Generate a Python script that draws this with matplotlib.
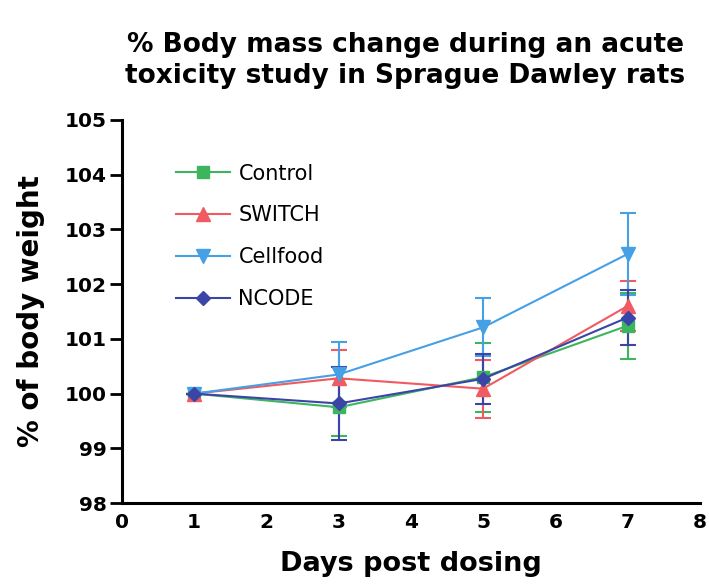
import matplotlib
matplotlib.use("Agg")
import matplotlib.pyplot as plt
from matplotlib.lines import Line2D

days = [1, 3, 5, 7]
series_names = ["Control", "SWITCH", "Cellfood", "NCODE"]
control = [100.0, 99.75, 100.30, 101.24]
control_err = [0.0, 0.52, 0.63, 0.60]
switch = [100.0, 100.28, 100.09, 101.60]
switch_err = [0.0, 0.52, 0.53, 0.45]
cellfood = [100.0, 100.35, 101.21, 102.55]
cellfood_err = [0.0, 0.60, 0.53, 0.75]
ncode = [100.0, 99.82, 100.27, 101.39]
ncode_err = [0.0, 0.66, 0.46, 0.50]

x_ticks = [0, 1, 2, 3, 4, 5, 6, 7, 8]
y_ticks = [98, 99, 100, 101, 102, 103, 104, 105]

plt.rcParams['font.family'] = ['DejaVu Sans']

fig = plt.figure(figsize=(7.09, 5.85), dpi=100)
ax = fig.add_axes([0.172, 0.140, 0.815, 0.655])

styles = [
    (control, control_err, "#3db55e", "s", 9),
    (switch, switch_err, "#f05a60", "^", 9.5),
    (cellfood, cellfood_err, "#45a0e6", "v", 9.5),
    (ncode, ncode_err, "#3b45a8", "D", 7.5),
]
handles = []
for name, (vals, errs, col, mk, ms) in zip(series_names, styles):
    ax.errorbar(days, vals, yerr=errs, color=col, marker=mk, markersize=ms,
                linewidth=1.5, elinewidth=1.5, capsize=6, capthick=1.5)
    handles.append(Line2D([], [], color=col, marker=mk, markersize=ms,
                          linewidth=1.5, label=name))

ax.set_xlim(0, 8)
ax.set_ylim(98, 105)
ax.set_xticks(x_ticks)
ax.set_yticks(y_ticks)
for s in ["top", "right"]:
    ax.spines[s].set_visible(False)
for s in ["left", "bottom"]:
    ax.spines[s].set_linewidth(2.2)
ax.tick_params(axis="y", direction="out", length=9, width=2, labelsize=14.5, pad=2)
ax.tick_params(axis="x", length=0, labelsize=14.5, pad=7)
for lab in ax.get_xticklabels() + ax.get_yticklabels():
    lab.set_fontweight("bold")

ax.set_xlabel("Days post dosing", fontsize=19.5, fontweight="bold", labelpad=14)
ax.set_ylabel("% of body weight", fontsize=20, fontweight="bold", labelpad=14)
fig.suptitle("% Body mass change during an acute\ntoxicity study in Sprague Dawley rats",
             x=0.572, y=0.945, va="top", fontsize=19, fontweight="bold", linespacing=1.25)

leg = ax.legend(handles=handles, loc="upper left", bbox_to_anchor=(0.061, 0.935),
                frameon=False, fontsize=15, handlelength=2.6, labelspacing=1.05,
                handletextpad=0.4)

fig.savefig("out.png", dpi=100)
